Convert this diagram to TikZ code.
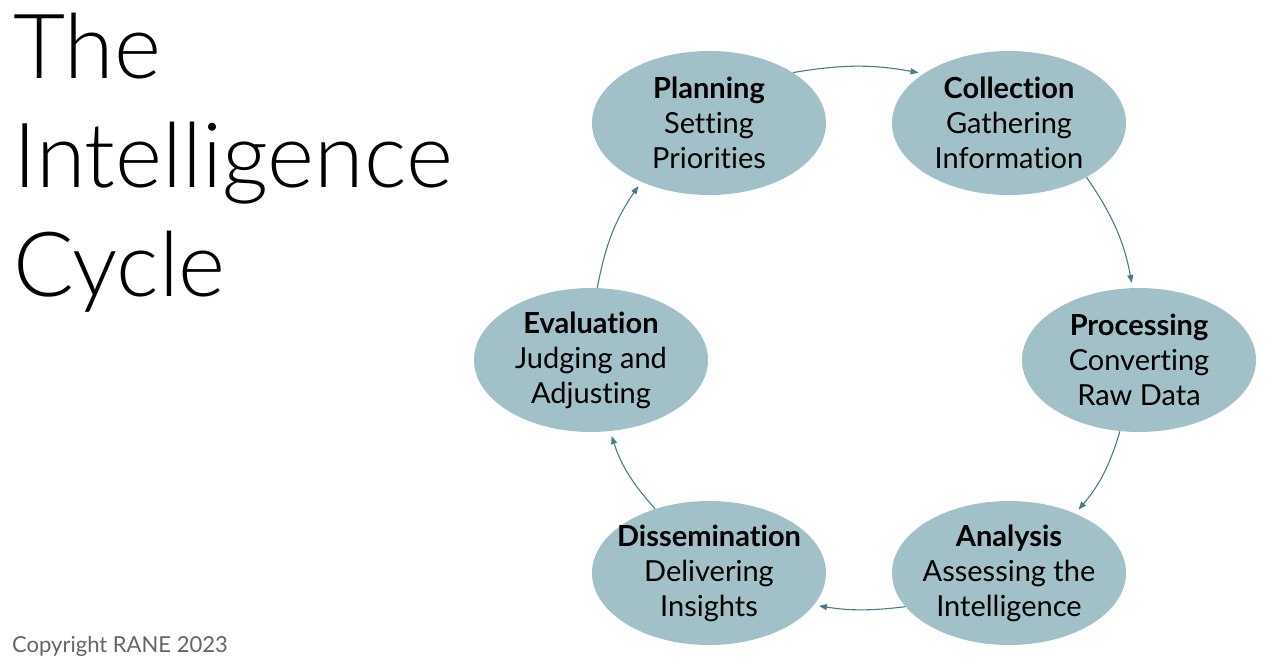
\documentclass[tikz,border=0pt]{standalone}
\usepackage{fontspec}
\setmainfont[Ligatures=NoCommon]{Lato}
\newfontfamily\lightfont{Lato Light}
\usetikzlibrary{shapes.geometric,arrows.meta}

\definecolor{ovalfill}{RGB}{162,192,200}
\definecolor{cyclearrow}{RGB}{72,124,138}
\definecolor{notegray}{RGB}{100,100,100}

\begin{document}
\begin{tikzpicture}[
    x=1pt, y=1pt,
    stage/.style={ellipse, fill=ovalfill, draw=none, inner ysep=0pt,
                  inner xsep=-14pt,
                  minimum width=234pt, minimum height=144pt, align=center,
                  font=\fontsize{29}{35}\selectfont},
    cycle/.style={-{Triangle[length=8pt,width=6pt]}, line width=1.1pt,
                  cyclearrow, shorten >=5pt}
]

% canvas
\useasboundingbox (0,0) rectangle (1280,-670);

% title and footer
\node[anchor=north west, inner sep=0pt, align=left,
      font=\lightfont\fontsize{90}{109}\selectfont] (title) at (13,-13)
    {The\\Intelligence\\Cycle};
\node[anchor=base west, inner sep=0pt, text=notegray,
      font=\fontsize{22}{25}\selectfont] (copy) at (12,-652)
    {Copyright RANE 2023};

% stages of the cycle
\node[stage] (plan) at (709,-123)  {\textbf{Planning}\\Setting\\Priorities};
\node[stage] (coll) at (1009,-123) {\textbf{Collection}\\Gathering\\Information};
\node[stage] (proc) at (1139,-360) {\textbf{Processing}\\Converting\\Raw Data};
\node[stage] (anal) at (1009,-573) {\textbf{Analysis}\\Assessing the\\Intelligence};
\node[stage] (diss) at (709,-573)  {\textbf{Dissemination}\\Delivering\\Insights};
\node[stage] (eval) at (591,-360)  {\textbf{Evaluation}\\Judging and\\Adjusting};

% arrows round the cycle
\draw[cycle] (plan.31) to[bend left=10] (coll.150);
\draw[cycle] (coll.-35) to[bend left=12] (proc.95);
\draw[cycle] (proc.-105) to[bend left=12] (anal.42);
\draw[cycle] (anal.-162) to[bend left=8] (diss.-17);
\draw[cycle] (diss.130) to[bend left=12] (eval.-75);
\draw[cycle] (eval.85) to[bend left=12] (plan.-139);

\end{tikzpicture}
\end{document}
